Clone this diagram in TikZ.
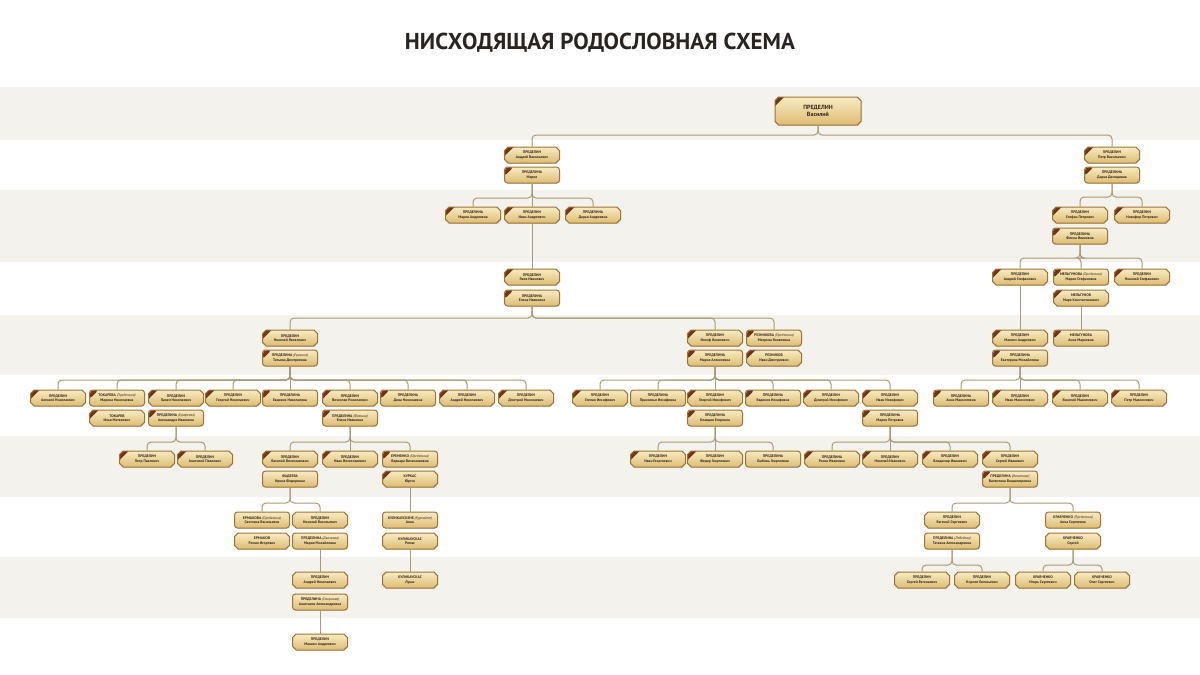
\documentclass[tikz,border=0pt]{standalone}
\usepackage{fontspec}
\setmainfont{PT Sans}
\usetikzlibrary{shapes.misc}
\usetikzlibrary{shadows}
\definecolor{band}{HTML}{F4F2ED}
\definecolor{goldtop}{HTML}{F8EBC2}
\definecolor{goldbot}{HTML}{DDBC72}
\definecolor{goldedge}{HTML}{9C7434}
\definecolor{ribbon}{HTML}{74341A}
\definecolor{linkcol}{HTML}{A89978}
\definecolor{ink}{HTML}{35261A}
\definecolor{titleink}{HTML}{2A2420}
\tikzstyle{box}=[draw=goldedge, line width=1pt, top color=goldtop, bottom color=goldbot, text=ink, align=center, minimum width=55pt, minimum height=16pt, inner sep=1pt, font=\fontsize{3.7}{4.3}\selectfont\bfseries, drop shadow={opacity=0.2,shadow xshift=0.6pt,shadow yshift=-0.8pt}]
\tikzstyle{plaque}=[box, chamfered rectangle, chamfered rectangle xsep=1.8pt, chamfered rectangle ysep=1.8pt]
\tikzstyle{tablet}=[box, rectangle, rounded corners=3pt]
\tikzstyle{dead}=[path picture={\fill[ribbon] ([xshift=3pt]path picture bounding box.north west) -- ([xshift=9pt]path picture bounding box.north west) -- ([yshift=-9pt]path picture bounding box.north west) -- ([yshift=-3pt]path picture bounding box.north west) -- cycle;}]
\tikzstyle{plaqued}=[plaque, dead]
\tikzstyle{tabletd}=[tablet, dead]
\tikzstyle{link}=[draw=linkcol, line width=1pt, rounded corners=4pt]
\newcommand{\nee}[1]{\textmd{\itshape (#1)}}

\begin{document}
\begin{tikzpicture}[x=1pt, y=-1pt]
    % page and generation bands
    \useasboundingbox (0,0) rectangle (1200,675);
    \fill[white] (0,0) rectangle (1200,675);
    \foreach \top/\bot in {87/140, 190/262, 315/375, 436/497, 557/618}
        \fill[band] (0,\top) rectangle (1200,\bot);

    \node[font=\fontsize{23}{25}\selectfont\bfseries, text=titleink] (title) at (600,43) {НИСХОДЯЩАЯ РОДОСЛОВНАЯ СХЕМА};

    % First the people, generation by generation
    \node[plaqued, minimum width=86pt, minimum height=28pt, font=\fontsize{6}{7}\selectfont\bfseries] (r) at (818,111) {ПРЕДЕЛИН\\Василий};

    \foreach \pos/\name/\look/\label in {{(532,155)/a1/plaqued/{ПРЕДЕЛИН\\Андрей Васильевич}}, {(532,175)/a1w/tabletd/{ПРЕДЕЛИНА\\Мария}},
        {(1112,155)/b1/plaqued/{ПРЕДЕЛИН\\Петр Васильевич}}, {(1112,175)/b1w/tabletd/{ПРЕДЕЛИНА\\Дарья Демидовна}}}
        \node[\look] (\name) at \pos {\label};

    \foreach \pos/\name/\look/\label in {{(473,215)/a2/plaqued/{ПРЕДЕЛИНА\\Мария Андреевна}}, {(532,215)/a3/plaqued/{ПРЕДЕЛИН\\Иван Андреевич}}, {(593,215)/a4/plaqued/{ПРЕДЕЛИНА\\Дарья Андреевна}},
        {(1080,215)/b2/plaqued/{ПРЕДЕЛИН\\Стефан Петрович}}, {(1142,215)/b3/plaqued/{ПРЕДЕЛИН\\Никифор Петрович}}, {(1080,236)/b2w/tabletd/{ПРЕДЕЛИНА\\Фекла Ивановна}}}
        \node[\look] (\name) at \pos {\label};

    \foreach \pos/\name/\look/\label in {{(532,277)/c1/plaqued/{ПРЕДЕЛИН\\Яков Иванович}}, {(532,298)/c1w/tabletd/{ПРЕДЕЛИНА\\Елена Ивановна}},
        {(1020,277)/d1/plaqued/{ПРЕДЕЛИН\\Андрей Стефанович}}, {(1081,277)/d2/tabletd/{МЕЛЬГУНОВА \nee{Пределина}\\Мария Стефановна}}, {(1142,277)/d3/plaqued/{ПРЕДЕЛИН\\Николай Стефанович}},
        {(1081,298)/d2h/plaqued/{МЕЛЬГУНОВ\\Марк Константинович}}}
        \node[\look] (\name) at \pos {\label};

    \foreach \pos/\name/\look/\label in {{(290,338)/e1/plaqued/{ПРЕДЕЛИН\\Николай Яковлевич}}, {(290,358)/e1w/tabletd/{ПРЕДЕЛИНА \nee{Ерохина}\\Татьяна Дмитриевна}},
        {(715,338)/e2/plaqued/{ПРЕДЕЛИН\\Иосиф Яковлевич}}, {(715,358)/e2w/tabletd/{ПРЕДЕЛИНА\\Мария Алексеевна}},
        {(774,338)/e3/tabletd/{РЕЗНИКОВА \nee{Пределина}\\Матрена Яковлевна}}, {(774,358)/e3h/plaqued/{РЕЗНИКОВ\\Иван Дмитриевич}},
        {(1020,338)/f1/plaqued/{ПРЕДЕЛИН\\Максим Андреевич}}, {(1020,358)/f1w/tabletd/{ПРЕДЕЛИНА\\Екатерина Михайловна}},
        {(1081,338)/f2/tabletd/{МЕЛЬГУНОВА\\Анна Марковна}}}
        \node[\look] (\name) at \pos {\label};

    \foreach \pos/\name/\look/\label in {{(58,398)/g1/plaqued/{ПРЕДЕЛИН\\Алексей Николаевич}}, {(117,398)/g2/tabletd/{ТОКАРЕВА \nee{Пределина}\\Марина Николаевна}},
        {(176,398)/g3/plaqued/{ПРЕДЕЛИН\\Павел Николаевич}}, {(233,398)/g4/plaqued/{ПРЕДЕЛИН\\Георгий Николаевич}},
        {(290,398)/g5/tabletd/{ПРЕДЕЛИНА\\Евдокия Николаевна}}, {(350,398)/g6/plaqued/{ПРЕДЕЛИН\\Вячеслав Николаевич}},
        {(408,398)/g7/tabletd/{ПРЕДЕЛИНА\\Дина Николаевна}}, {(467,398)/g8/plaqued/{ПРЕДЕЛИН\\Андрей Николаевич}},
        {(526,398)/g9/plaqued/{ПРЕДЕЛИН\\Дмитрий Николаевич}},
        {(117,418)/g2h/plaqued/{ТОКАРЕВ\\Илья Матвеевич}}, {(176,418)/g3w/tabletd/{ПРЕДЕЛИНА \nee{Ерофеева}\\Александра Ивановна}},
        {(350,418)/g6w/tabletd/{ПРЕДЕЛИНА \nee{Фомина}\\Елена Ивановна}}}
        \node[\look] (\name) at \pos {\label};

    \foreach \pos/\name/\look/\label in {{(600,398)/h1/plaqued/{ПРЕДЕЛИН\\Степан Иосифович}}, {(658,398)/h2/tablet/{ПРЕДЕЛИНА\\Прасковья Иосифовна}},
        {(715,398)/h3/plaqued/{ПРЕДЕЛИН\\Георгий Иосифович}}, {(773,398)/h4/tabletd/{ПРЕДЕЛИНА\\Евдокия Иосифовна}},
        {(831,398)/h5/plaqued/{ПРЕДЕЛИН\\Дмитрий Иосифович}}, {(890,398)/h6/plaqued/{ПРЕДЕЛИН\\Иван Иосифович}},
        {(715,418)/h3w/tabletd/{ПРЕДЕЛИНА\\Клавдия Егоровна}}, {(890,418)/h6w/tabletd/{ПРЕДЕЛИНА\\Мария Петровна}},
        {(961,398)/k1/tabletd/{ПРЕДЕЛИНА\\Анна Максимовна}}, {(1020,398)/k2/plaqued/{ПРЕДЕЛИН\\Иван Максимович}},
        {(1080,398)/k3/plaqued/{ПРЕДЕЛИН\\Василий Максимович}}, {(1139,398)/k4/plaqued/{ПРЕДЕЛИН\\Петр Максимович}}}
        \node[\look] (\name) at \pos {\label};

    \foreach \pos/\name/\look/\label in {{(147,459)/m1/plaqued/{ПРЕДЕЛИН\\Петр Павлович}}, {(205,459)/m2/plaqued/{ПРЕДЕЛИН\\Анатолий Павлович}},
        {(290,459)/m3/plaqued/{ПРЕДЕЛИН\\Василий Вячеславович}}, {(350,459)/m4/plaqued/{ПРЕДЕЛИН\\Иван Вячеславович}},
        {(410,459)/m5/tabletd/{ЕРЕМЕНКО \nee{Пределина}\\Варвара Вячеславовна}},
        {(290,479)/m3w/tablet/{ФАДЕЕВА\\Ирина Федоровна}}, {(410,479)/m5h/plaqued/{КУРКАС\\Юргис}},
        {(658,459)/n1/plaqued/{ПРЕДЕЛИН\\Иван Георгиевич}}, {(715,459)/n2/plaqued/{ПРЕДЕЛИН\\Федор Георгиевич}},
        {(773,459)/n3/tablet/{ПРЕДЕЛИНА\\Любовь Георгиевна}}, {(832,459)/n4/plaqued/{ПРЕДЕЛИНА\\Раиса Ивановна}},
        {(890,459)/n5/plaqued/{ПРЕДЕЛИН\\Николай Иванович}}, {(950,459)/n6/plaqued/{ПРЕДЕЛИН\\Владимир Иванович}},
        {(1010,459)/n7/plaqued/{ПРЕДЕЛИН\\Сергей Иванович}}, {(1010,479)/n7w/tabletd/{ПРЕДЕЛИНА \nee{Игнатова}\\Валентина Владимировна}}}
        \node[\look] (\name) at \pos {\label};

    \foreach \pos/\name/\look/\label in {{(262,520)/p1/tablet/{ЕРМАКОВА \nee{Пределина}\\Светлана Васильевна}}, {(262,541)/p1h/plaque/{ЕРМАКОВ\\Роман Игоревич}},
        {(320,520)/p2/plaque/{ПРЕДЕЛИН\\Николай Васильевич}}, {(320,541)/p2w/tablet/{ПРЕДЕЛИНА \nee{Дьячкова}\\Мария Михайловна}},
        {(410,520)/p3/tablet/{КУЛИКАУСКЕНЕ \nee{Куркайте}\\Анна}}, {(410,541)/p3h/plaque/{КУЛИКАУСКАС\\Ромас}},
        {(952,520)/q1/plaque/{ПРЕДЕЛИН\\Евгений Сергеевич}}, {(952,541)/q1w/tablet/{ПРЕДЕЛИНА \nee{Лебедева}\\Татьяна Александровна}},
        {(1073,520)/q2/tablet/{КРАВЧЕНКО \nee{Пределина}\\Анна Сергеевна}}, {(1073,541)/q2h/plaque/{КРАВЧЕНКО\\Сергей}}}
        \node[\look] (\name) at \pos {\label};

    \foreach \pos/\name/\look/\label in {{(320,580)/s1/plaque/{ПРЕДЕЛИН\\Андрей Николаевич}}, {(320,602)/s1w/tablet/{ПРЕДЕЛИНА \nee{Смирнова}\\Анастасия Александровна}},
        {(410,580)/s2/plaque/{КУЛИКАУСКАС\\Лукас}},
        {(922,580)/t1/plaque/{ПРЕДЕЛИН\\Сергей Евгеньевич}}, {(982,580)/t2/plaque/{ПРЕДЕЛИН\\Кирилл Евгеньевич}},
        {(1043,580)/t3/plaque/{КРАВЧЕНКО\\Игорь Сергеевич}}, {(1102,580)/t4/plaque/{КРАВЧЕНКО\\Олег Сергеевич}},
        {(320,642)/u1/plaque/{ПРЕДЕЛИН\\Максим Андреевич}}}
        \node[\look] (\name) at \pos {\label};

    % Then the braces from parents to children
    \foreach \src/\dst/\yy in {r/a1/135, r/b1/135, a1w/a2/198, a1w/a4/198, b1w/b2/197, b1w/b3/197,
        b2w/d1/258, b2w/d2/258, b2w/d3/258, c1w/e1/318, c1w/e2/318, c1w/e3/318,
        e1w/g1/380, e1w/g2/380, e1w/g3/380, e1w/g4/380, e1w/g6/380, e1w/g7/380, e1w/g8/380, e1w/g9/380,
        e2w/h1/380, e2w/h2/380, e2w/h4/380, e2w/h5/380, e2w/h6/380,
        f1w/k1/380, f1w/k3/380, f1w/k4/380,
        g3w/m1/442, g3w/m2/442, g6w/m3/442, g6w/m5/442,
        h3w/n1/442, h3w/n3/442, h6w/n4/442, h6w/n6/442, h6w/n7/442,
        m3w/p1/503, m3w/p2/503, n7w/q1/503, n7w/q2/503,
        q1w/t1/565, q1w/t2/565, q2h/t3/565, q2h/t4/565}
        \draw[link] (\src.south) |- (\dst.north |- 0,\yy) -- (\dst.north);

    % straight drops
    \foreach \src/\dst in {a1w/a3, a3/c1, d1/f1, d2h/f2, e1w/g5, e2w/h3, f1w/k2, g6w/m4, h3w/n2, h6w/n5,
        m5h/p3, p2w/s1, p3h/s2, s1w/u1}
        \draw[link] (\src.south) -- (\dst.north);
\end{tikzpicture}
\end{document}
